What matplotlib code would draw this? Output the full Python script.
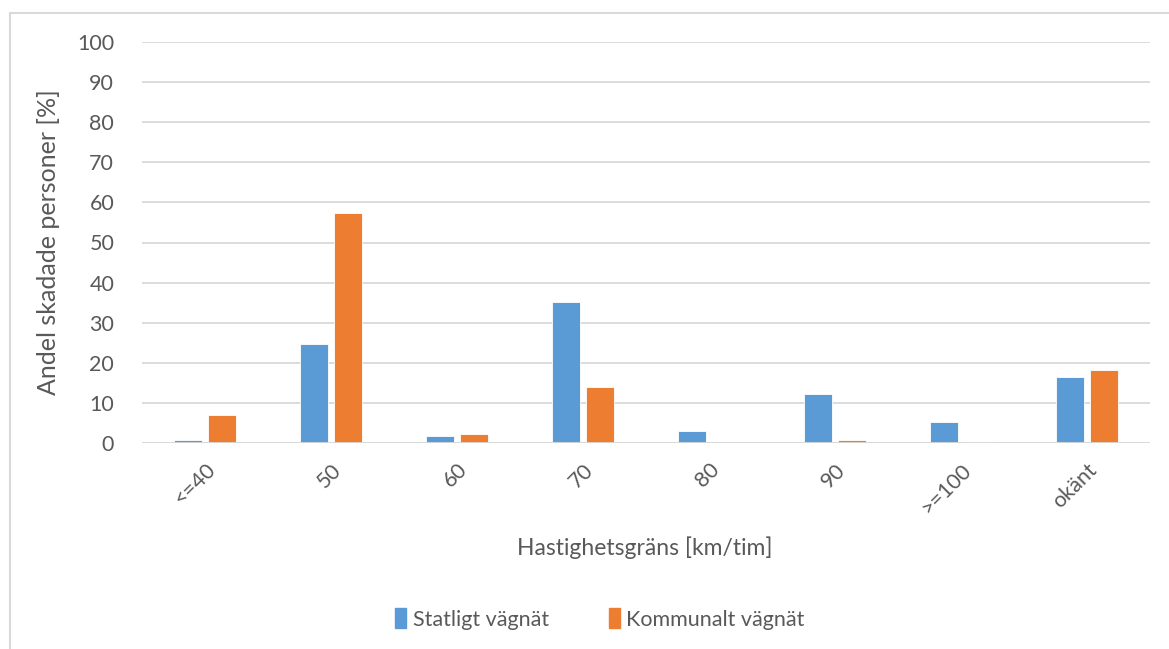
import numpy as np
import matplotlib
matplotlib.use("Agg")
import matplotlib.pyplot as plt
from matplotlib.lines import Line2D
from matplotlib.patches import Patch

# andel skadade personer per hastighetsgräns
kategorier = ["<=40", "50", "60", "70", "80", "90", ">=100", "okänt"]
statligt = [0.8, 24.8, 1.8, 35.2, 3.0, 12.2, 5.2, 16.4]
kommunalt = [6.9, 57.3, 2.2, 13.9, 0.0, 0.7, 0.2, 18.3]

blå = "#5B9BD5"
orange = "#ED7D31"
grå_text = "#595959"
grå_linje = "#D9D9D9"

plt.rcParams['font.family'] = ['Lato', 'DejaVu Sans']

fig = plt.figure(figsize=(11.69, 6.49), dpi=100)
ax = fig.add_axes([142/1169, 1-443/649, (1150-142)/1169, (443-42)/649])

x = np.arange(len(kategorier))
b = 0.222
mellan = 0.055
ax.bar(x - (b+mellan)/2, statligt, b, color=blå, edgecolor="white", linewidth=0.6, zorder=3)
ax.bar(x + (b+mellan)/2, kommunalt, b, color=orange, edgecolor="white", linewidth=0.6, zorder=3)

ax.set_xlim(-0.5, len(kategorier)-0.5)
ax.set_ylim(0, 100)
ax.set_yticks(np.arange(0, 101, 10))
ax.yaxis.grid(True, color=grå_linje, linewidth=1.3, zorder=0)
for s in ["top", "right", "left", "bottom"]:
    ax.spines[s].set_visible(False)
ax.axhline(0, color=grå_linje, linewidth=1.3, zorder=4)

ax.set_xticks(x)
ax.set_xticklabels(kategorier, rotation=45, ha="right", va="top", rotation_mode="anchor")
ax.tick_params(axis="both", length=0, labelsize=15.5, labelcolor=grå_text)
ax.tick_params(axis="x", pad=12)
ax.tick_params(axis="y", pad=20)

ax.set_ylabel("Andel skadade personer [%]", fontsize=18, color=grå_text, labelpad=12)
fig.text(645/1169, 1-548/649, "Hastighetsgräns [km/tim]", fontsize=16.5, color=grå_text,
         ha="center", va="center")

handles = [Patch(color=blå), Patch(color=orange)]
fig.legend(handles, ["Statligt vägnät", "Kommunalt vägnät"], loc="center",
           bbox_to_anchor=(600/1169, 1-619/649), ncol=2, frameon=False,
           fontsize=15.5, labelcolor=grå_text, handlelength=0.5, handleheight=1.0,
           handletextpad=0.3, columnspacing=2.8)

# ram runt diagrammet
fig.add_artist(Line2D([9.5/1169, 9.5/1169], [0, 1-13/649], color=grå_linje, linewidth=1.5))
fig.add_artist(Line2D([9.5/1169, 1], [1-13/649, 1-13/649], color=grå_linje, linewidth=1.5))

fig.savefig("out.png", dpi=100)
